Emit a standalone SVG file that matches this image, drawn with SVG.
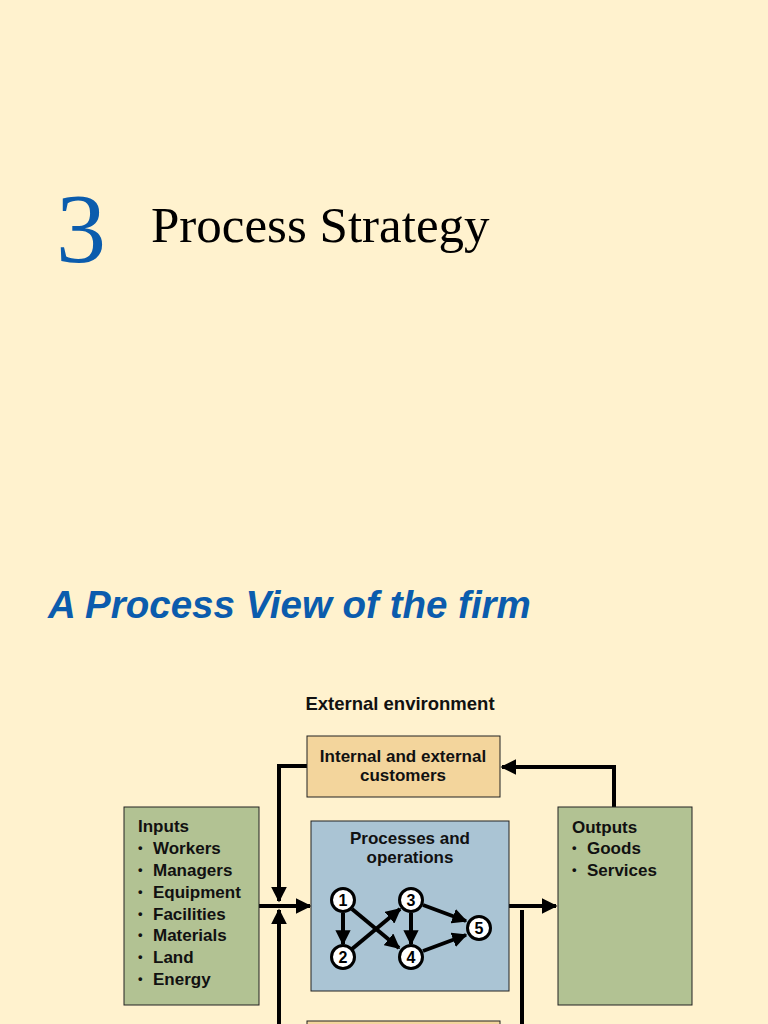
<svg xmlns="http://www.w3.org/2000/svg" width="768" height="1024" viewBox="0 0 768 1024">
<style>
.lbl{font-family:"Liberation Sans",Arial,sans-serif;font-weight:bold;font-size:17px;fill:#111}
.bul{font-family:"Liberation Sans",Arial,sans-serif;font-weight:bold;font-size:13px;fill:#111}
.box{stroke:#222;stroke-width:1}
.conn{fill:none;stroke:#000;stroke-width:4}
.nd circle{fill:#fff;stroke:#000;stroke-width:3}
.nd text{font-family:"Liberation Sans",Arial,sans-serif;font-weight:bold;font-size:16px;fill:#000;text-anchor:middle}
.edge{stroke:#000;stroke-width:4;fill:none}
</style>
<defs>
<marker id="ah" viewBox="0 0 10 10" refX="9" refY="5" markerWidth="4" markerHeight="4" orient="auto" markerUnits="strokeWidth">
<path d="M0,0 L10,5 L0,10 z" fill="#000"/>
</marker>
<marker id="ah2" viewBox="0 0 10 10" refX="9" refY="5" markerWidth="3.8" markerHeight="3.8" orient="auto" markerUnits="strokeWidth">
<path d="M0,0 L10,5 L0,10 z" fill="#000"/>
</marker>
</defs>
<rect width="768" height="1024" fill="#FFF2CE"/>
<text x="56" y="262" font-family="Liberation Serif,'Times New Roman',serif" font-size="100" fill="#0B5CAD">3</text>
<text x="151" y="242" font-family="Liberation Serif,'Times New Roman',serif" font-size="51" fill="#000">Process Strategy</text>
<text x="48" y="618" font-family="Liberation Sans,Arial,sans-serif" font-size="38.5" font-weight="bold" font-style="italic" fill="#0B5CAD">A Process View of the firm</text>
<text class="lbl" x="400" y="710" text-anchor="middle" style="font-size:18.5px">External environment</text>

<g id="connectors">
<path class="conn" d="M307,766 H279 V901" marker-end="url(#ah)"/>
<path class="conn" d="M279,1024 V910" marker-end="url(#ah)"/>
<path class="conn" d="M259,906 H310" marker-end="url(#ah)"/>
<path class="conn" d="M509,906 H556" marker-end="url(#ah)"/>
<path class="conn" d="M614,807 V767 H502" marker-end="url(#ah)"/>
<path class="conn" d="M522,910 V1024"/>
</g>

<g id="customers">
<rect class="box" x="307" y="736" width="193" height="61" fill="#F3D59C"/>
<text class="lbl" x="403" y="762" text-anchor="middle">Internal and external</text>
<text class="lbl" x="403" y="781" text-anchor="middle">customers</text>
</g>

<g id="inputs">
<rect class="box" x="124" y="807" width="135" height="198" fill="#B2C293"/>
<text class="lbl" x="138" y="832">Inputs</text>
<text class="bul" x="138" y="852">•</text><text class="lbl" x="153" y="854">Workers</text>
<text class="bul" x="138" y="874">•</text><text class="lbl" x="153" y="876">Managers</text>
<text class="bul" x="138" y="896">•</text><text class="lbl" x="153" y="898">Equipment</text>
<text class="bul" x="138" y="918">•</text><text class="lbl" x="153" y="920">Facilities</text>
<text class="bul" x="138" y="939">•</text><text class="lbl" x="153" y="941">Materials</text>
<text class="bul" x="138" y="961">•</text><text class="lbl" x="153" y="963">Land</text>
<text class="bul" x="138" y="983">•</text><text class="lbl" x="153" y="985">Energy</text>
</g>

<g id="processes">
<rect class="box" x="311" y="821" width="198" height="170" fill="#AAC4D4"/>
<text class="lbl" x="410" y="844" text-anchor="middle">Processes and</text>
<text class="lbl" x="410" y="863" text-anchor="middle">operations</text>
<g id="edges">
<line class="edge" x1="343" y1="913" x2="343" y2="944" marker-end="url(#ah2)"/>
<line class="edge" x1="352" y1="909" x2="399" y2="948" marker-end="url(#ah2)"/>
<line class="edge" x1="352" y1="949" x2="400" y2="909" marker-end="url(#ah2)"/>
<line class="edge" x1="411" y1="913" x2="411" y2="944" marker-end="url(#ah2)"/>
<line class="edge" x1="423" y1="905" x2="466" y2="921" marker-end="url(#ah2)"/>
<line class="edge" x1="423" y1="951" x2="466" y2="935" marker-end="url(#ah2)"/>
</g>
<g id="n1" class="nd"><circle cx="343" cy="900" r="11.5"/><text x="343" y="906">1</text></g>
<g id="n2" class="nd"><circle cx="343" cy="957" r="11.5"/><text x="343" y="963">2</text></g>
<g id="n3" class="nd"><circle cx="411" cy="900" r="11.5"/><text x="411" y="906">3</text></g>
<g id="n4" class="nd"><circle cx="411" cy="957" r="11.5"/><text x="411" y="963">4</text></g>
<g id="n5" class="nd"><circle cx="479" cy="928" r="11.5"/><text x="479" y="934">5</text></g>
</g>

<g id="outputs">
<rect class="box" x="558" y="807" width="134" height="198" fill="#B2C293"/>
<text class="lbl" x="572" y="833">Outputs</text>
<text class="bul" x="572" y="852">•</text><text class="lbl" x="587" y="854">Goods</text>
<text class="bul" x="572" y="874">•</text><text class="lbl" x="587" y="876">Services</text>
</g>

<g id="bottom-box">
<rect class="box" x="307" y="1021" width="193" height="20" fill="#F3D59C"/>
</g>
</svg>
